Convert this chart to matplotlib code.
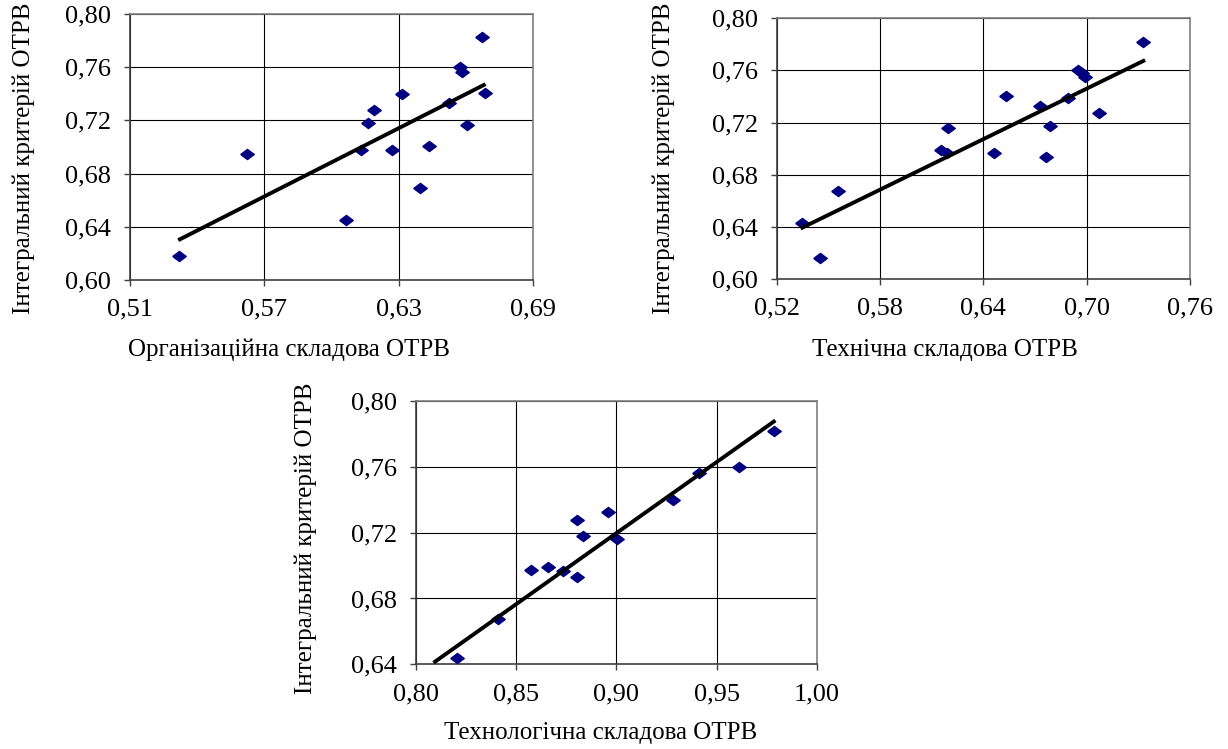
import numpy as np
import matplotlib
matplotlib.use('Agg')
import matplotlib.pyplot as plt

plt.rcParams['font.family'] = ['Liberation Serif', 'DejaVu Serif']

# integral criterion vs organisational component
org_x = [0.5317, 0.5621, 0.6063, 0.6130, 0.6164, 0.6190, 0.6272, 0.6314,
         0.6397, 0.6434, 0.6524, 0.6573, 0.6583, 0.6603, 0.6672, 0.6684]
org_y = [0.618, 0.6945, 0.645, 0.6977, 0.7178, 0.7278, 0.6977, 0.7396,
         0.6689, 0.7008, 0.7333, 0.760, 0.7566, 0.7168, 0.783, 0.7409]
org_trend_x = [0.5323, 0.668]
org_trend_y = [0.6306, 0.7466]

# integral criterion vs technical component
tech_x = [0.5349, 0.5452, 0.5554, 0.6154, 0.6187, 0.6197, 0.6462, 0.6532, 0.6729,
          0.6762, 0.6787, 0.6893, 0.6952, 0.6971, 0.6990, 0.7073, 0.7329]
tech_y = [0.6432, 0.6159, 0.6678, 0.699, 0.6966, 0.7156, 0.6964, 0.7404, 0.7327,
          0.6933, 0.7174, 0.7386, 0.7604, 0.7578, 0.7553, 0.7276, 0.7816]
tech_trend_x = [0.5349, 0.7329]
tech_trend_y = [0.6394, 0.7673]

# integral criterion vs technological component
tl_x = [0.8095, 0.8206, 0.8411, 0.8572, 0.8660, 0.8732, 0.8802, 0.8805, 0.8835,
        0.8960, 0.9001, 0.9284, 0.9412, 0.9611, 0.9786]
tl_y = [0.618, 0.644, 0.6677, 0.6973, 0.6993, 0.6968, 0.6933, 0.7277, 0.7182,
        0.7324, 0.716, 0.7399, 0.756, 0.7597, 0.782]
tl_trend_x = [0.8095, 0.9786]
tl_trend_y = [0.6416, 0.7875]

y_label = 'Інтегральний критерій ОТРВ'

W, H = 1228, 749
fig = plt.figure(figsize=(W / 100, H / 100), dpi=100)

# wide diamond like the excel marker
diamond = [(-1, 0), (0, 0.75), (1, 0), (0, -0.75), (-1, 0)]


def px_axes(l, t, r, b):
    return fig.add_axes([l / W, 1 - b / H, (r - l) / W, (b - t) / H])


def draw(ax, xs, ys, tx, ty, xlim, xticks, ylim, yticks):
    ax.set_axisbelow(True)
    ax.grid(True, color='black', linewidth=0.8)
    ax.scatter(xs, ys, marker=diamond, s=95, color='#000080', zorder=3, clip_on=True)
    ax.plot(tx, ty, color='black', linewidth=2.8, zorder=4)
    ax.set_xlim(xlim)
    ax.set_ylim(ylim)
    ax.set_xticks(xticks)
    ax.set_yticks(yticks)
    ax.set_xticklabels([('%.2f' % v).replace('.', ',') for v in xticks])
    ax.set_yticklabels([('%.2f' % v).replace('.', ',') for v in yticks])
    ax.tick_params(direction='out', length=4.5, width=1, labelsize=19, color='#404040')
    ax.tick_params(axis='x', pad=9)
    ax.tick_params(axis='y', pad=9)
    for s in ['left', 'bottom']:
        ax.spines[s].set_color('#404040')
        ax.spines[s].set_linewidth(1.2)
    for s in ['top', 'right']:
        ax.spines[s].set_color('#808080')
        ax.spines[s].set_linewidth(1.2)


ax1 = px_axes(130, 14, 533, 280)
draw(ax1, org_x, org_y, org_trend_x, org_trend_y, (0.51, 0.69),
     [0.51, 0.57, 0.63, 0.69], (0.60, 0.80), [0.60, 0.64, 0.68, 0.72, 0.76, 0.80])

ax2 = px_axes(776.7, 18.3, 1190, 279)
draw(ax2, tech_x, tech_y, tech_trend_x, tech_trend_y, (0.52, 0.76),
     [0.52, 0.58, 0.64, 0.70, 0.76], (0.60, 0.80), [0.60, 0.64, 0.68, 0.72, 0.76, 0.80])

ax3 = px_axes(416, 401, 816.7, 664.3)
draw(ax3, tl_x, tl_y, tl_trend_x, tl_trend_y, (0.80, 1.00),
     [0.80, 0.85, 0.90, 0.95, 1.00], (0.64, 0.80), [0.64, 0.68, 0.72, 0.76, 0.80])

fs = 18
fig.text(24 / W, 1 - 158 / H, y_label, rotation=90, ha='center', va='center', fontsize=fs)
fig.text(664 / W, 1 - 158 / H, y_label, rotation=90, ha='center', va='center', fontsize=fs)
fig.text(306 / W, 1 - 538 / H, y_label, rotation=90, ha='center', va='center', fontsize=fs)
fig.text(289 / W, 1 - 350 / H, 'Організаційна складова ОТРВ', ha='center', va='center', fontsize=fs)
fig.text(945 / W, 1 - 350 / H, 'Технічна складова ОТРВ', ha='center', va='center', fontsize=fs)
fig.text(601 / W, 1 - 733 / H, 'Технологічна складова ОТРВ', ha='center', va='center', fontsize=fs)

fig.savefig('out.png', dpi=100)
